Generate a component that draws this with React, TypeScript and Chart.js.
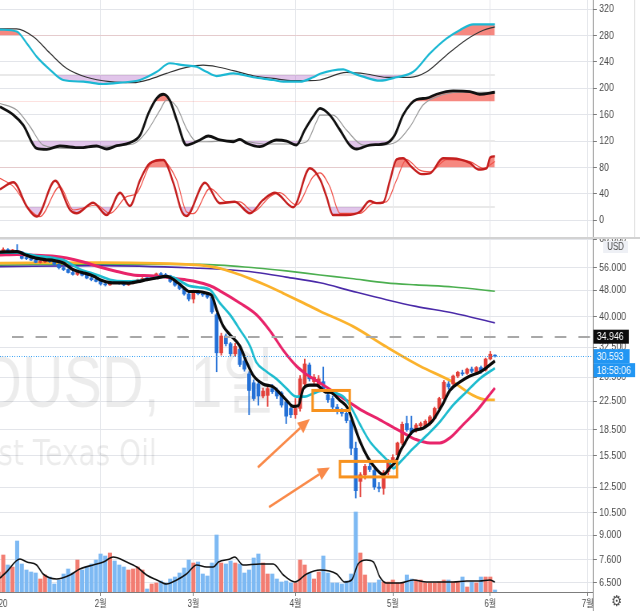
import React, { useEffect, useRef } from "react";
import { Chart, registerables } from "chart.js";
Chart.register(...registerables);

// ---------------- DATA ----------------
const monthTickIdx = [0, 22, 42, 64, 85, 106, 127];
const monthLabels = ["2020", "2월", "3월", "4월", "5월", "6월", "7월"];
const priceTicks = [68, 56, 48, 40, 32.5, 26.5, 22.5, 18.5, 15.5, 12.5, 10.5, 9, 7.6, 6.5];
const oscTicks = [0, 40, 80, 120, 160, 200, 240, 280, 320];
const alertLevel = 34.946;
const lastPrice = 30.593;
const countdown = "18:58:06";
const symbolText = "WTICOUSD,";
const intervalText = "1일";
const descText = "West Texas Oil";

const opens = [61.2,62.6,63.4,62.8,62.9,62.4,59.7,59.6,59.0,58.1,58.3,58.6,58.4,57.3,56.0,55.3,54.2,53.5,54.4,53.2,52.2,51.6,51.0,50.1,49.8,50.8,50.6,50.3,49.8,50.3,51.2,51.5,52.0,51.9,52.3,53.7,53.4,53.0,51.0,49.7,48.6,46.8,45.2,47.2,46.9,46.5,45.8,40.6,31.3,35.1,33.3,31.1,32.1,29.6,27.1,25.5,25.3,23.3,23.4,24.5,24.2,23.8,22.4,21.4,20.5,21.4,25.3,28.8,25.7,25.1,25.7,23.5,22.9,21.6,21.0,20.7,19.7,16.3,13.0,13.6,14.4,14.0,12.5,12.4,13.9,15.0,15.6,16.9,19.3,18.7,18.5,19.0,19.0,19.3,20.0,21.4,22.9,25.3,25.3,26.7,27.3,27.2,28.0,27.4,28.3,27.8,30.0,30.7];
const highs = [63.1,64.2,63.8,63.5,65.6,62.6,60.3,60.1,59.4,58.7,59.0,59.2,58.6,57.6,56.4,55.6,54.6,54.9,54.6,53.5,52.5,52.2,51.3,50.5,51.0,51.3,51.0,50.6,50.6,51.4,51.8,52.3,52.4,52.6,54.0,54.2,53.9,53.2,51.4,50.2,48.9,47.2,48.0,48.0,47.5,47.0,46.0,41.0,35.8,35.6,33.6,33.4,32.4,30.3,27.5,26.0,25.6,24.6,25.0,25.2,24.6,24.0,22.8,21.8,22.9,26.8,30.0,29.2,27.0,26.8,28.4,24.0,23.3,22.0,21.4,21.0,20.0,17.0,13.8,14.6,14.8,14.3,12.9,14.0,15.1,15.6,17.0,19.5,20.3,20.3,19.3,19.5,19.8,20.4,21.6,23.1,25.9,25.7,26.9,27.6,27.8,28.2,28.4,28.5,28.6,30.2,31.6,30.9];
const lows = [60.8,62.3,62.5,62.4,62.0,59.4,59.2,58.8,57.9,57.8,58.0,58.1,57.0,55.5,54.9,54.0,53.2,53.1,52.9,51.9,51.2,50.8,49.7,49.4,49.6,50.2,50.0,49.5,49.6,50.1,50.8,51.1,51.6,51.7,52.1,53.2,52.8,50.6,49.3,48.2,46.4,44.6,44.0,46.5,46.0,45.4,41.0,27.5,30.8,32.8,30.7,30.6,28.5,27.6,20.5,22.6,21.9,23.0,21.7,23.7,22.9,21.6,19.3,20.1,20.0,21.0,25.0,25.8,25.2,24.6,24.0,22.3,21.3,20.6,20.3,19.4,15.6,11.6,11.7,13.2,13.9,12.3,12.1,11.9,13.6,14.8,15.2,16.7,18.3,17.9,18.2,18.7,18.8,19.1,19.8,21.2,22.7,24.4,25.0,26.4,26.8,27.0,27.3,27.1,27.2,27.6,29.8,30.4];
const closes = [62.6,63.4,62.8,62.9,62.4,59.7,59.6,59.0,58.1,58.3,58.6,58.4,57.3,56.0,55.3,54.2,53.5,54.4,53.2,52.2,51.6,51.0,50.1,49.8,50.8,50.6,50.3,49.8,50.3,51.2,51.5,52.0,51.9,52.3,53.7,53.4,53.0,51.0,49.7,48.6,46.8,45.2,47.2,46.9,46.5,45.8,41.4,31.3,35.1,33.3,31.1,32.7,28.9,28.0,24.2,22.9,23.3,24.1,24.5,24.0,23.3,21.9,20.3,20.5,21.4,26.2,29.0,26.2,26.5,26.2,24.2,22.7,21.6,21.0,20.7,19.7,16.3,12.2,13.6,14.4,14.1,12.5,12.4,13.8,14.9,15.3,16.9,19.2,18.5,18.1,19.1,19.3,19.6,20.2,21.4,22.9,25.6,24.8,26.7,27.4,27.1,28.0,27.6,28.3,27.5,30.0,31.0,30.593];
const volumes = [20,37,27,25,51,28,22,20,19,13,17,15,8,12,18,23,19,32,22,25,28,32,38,36,39,31,27,25,22,23,25,22,3,8,9,11,9,13,15,19,24,32,29,30,18,16,29,57,29,28,31,29,28,19,22,34,38,29,18,18,13,10,11,9,9,32,27,19,13,20,36,19,9,9,8,11,18,80,39,17,9,9,12,10,10,12,9,9,17,13,12,12,9,9,9,10,12,12,10,10,15,5,10,9,15,15,15,2];
const volAvg = [[0.3,14],[1.7,20],[4.6,33],[6.1,30],[8.2,27],[9.6,18],[12.5,13],[15.4,17],[17.5,23],[20.4,27],[22.6,30],[24.7,35],[27.6,30],[29.8,25],[31.9,17],[34.1,12],[36.2,8],[38.4,12],[40.5,18],[42.7,27],[44.8,25],[46.3,25],[47.4,30],[49.9,33],[50.9,35],[52.7,27],[56.3,28],[59.2,28],[61.4,17],[63.9,10],[66.4,18],[69.3,22],[72.9,18],[74.6,10],[76.1,12],[77.5,28],[79.3,32],[80.8,30],[82.2,15],[83.6,9],[86.5,9],[89.4,12],[92.3,10],[98,10],[100.9,11],[103.7,11],[105.9,12],[107,10]];

const maBlack = [[0.3,62.3],[4,62.5],[6,61.0],[8,59.8],[10,59.2],[12,58.8],[14,57.8],[15,56.5],[16,55.3],[18,54.2],[20,53.2],[21,52.4],[22,51.5],[24,50.6],[26,50.5],[28,50.4],[30,50.9],[32,51.6],[34,52.2],[36,52.8],[37,52.4],[38,51.3],[39,50.1],[40,48.7],[41,47.6],[43,47.6],[45,47.0],[46,46.2],[47,42.0],[48.4,37.6],[49.9,35.4],[52,32.8],[53.5,29.3],[54.9,26.8],[57,25.3],[59.2,24.8],[60.6,23.8],[62.1,22.6],[63.5,21.7],[64.6,21.8],[65.7,24.5],[67.1,25.1],[68.5,25.1],[70.7,23.9],[71.4,23.9],[73.6,22.6],[75.3,21.4],[76.4,19.5],[77.9,17.1],[79.6,15.3],[81.5,14.1],[82.9,13.6],[84.4,14.3],[85.8,15.0],[86.5,15.9],[87.6,16.9],[88.2,17.5],[89.3,18.3],[91.5,18.7],[93.6,19.7],[95.8,22.1],[97.3,24.2],[99.4,25.6],[101.6,26.7],[103.7,27.4],[105.2,28.3],[107,29.6]];
const maCyan = [[0.3,62.0],[4,62.0],[8,60.8],[12,59.8],[14,59.0],[16,57.0],[18,55.0],[20,54.0],[22,52.8],[24,51.6],[27,51.0],[30,51.2],[33,52.0],[36,52.7],[38,52.2],[39.5,50.8],[41,49.5],[43,49.0],[45.6,48.1],[47.7,44.0],[49.9,40.6],[52,36.7],[54.2,32.8],[55.6,29.3],[57.8,27.5],[59.9,26.2],[62.1,24.5],[64.2,23.2],[66,23.2],[67.8,23.7],[70,24.2],[71.4,23.9],[74.3,23.2],[75.7,21.9],[77.9,19.2],[80,17.1],[82.2,15.8],[84.4,14.7],[85.1,14.2],[86.5,14.8],[87.9,15.5],[89.4,16.3],[92.3,17.8],[95.1,19.5],[98,21.9],[100.9,24.0],[103.7,26.2],[107,28.2]];
const maPink = [[0.3,61.1],[4,61.3],[8,61.0],[12,60.6],[14.7,59.8],[18.3,58.2],[21.8,56.3],[25.5,54.6],[29,53.3],[32.6,53.0],[36.2,52.5],[40.5,51.5],[42,51.1],[45.6,49.5],[47.7,47.8],[52,44.0],[55.6,40.6],[58.5,36.4],[61.4,31.8],[64.2,28.6],[66.4,27.0],[68.5,25.9],[71.4,24.4],[75,22.6],[78.6,21.0],[82.2,19.8],[85.1,18.8],[87.9,17.9],[90,17.3],[93,16.9],[95.1,16.9],[97.3,17.5],[100.2,19.2],[103,21.0],[105.2,22.9],[107,24.6]];
const maOrange = [[0.3,57.8],[21.8,58.0],[43.4,57.0],[47,56.0],[50.6,54.2],[54.2,52.0],[57.8,49.6],[61.4,47.0],[65,44.5],[69.3,41.6],[76.4,37.5],[83.6,32.6],[90.8,28.6],[98,25.6],[102.3,23.4],[105.2,22.7],[107,22.7]];
const maPurple = [[0.3,56.4],[21.8,56.8],[43.4,55.8],[48,55.4],[55.6,54.2],[62,52.5],[69.3,50.5],[76,47.8],[83.6,45.0],[90,43.0],[98,41.1],[107,38.4]];
const maGreen = [[0.3,57.0],[21.8,57.3],[43.4,57.3],[55.6,55.9],[62,54.8],[69.3,53.3],[76,52.0],[83.6,50.5],[90,49.8],[98,49.1],[107,47.7]];

const stochTopK = [[0.3,289],[3.9,286],[6.1,268],[8.2,248],[11.1,228],[13.9,212.6],[18.3,210],[22.6,206.5],[26.2,208.5],[30.5,212.6],[34.1,225],[36.9,238],[39.8,235],[42.7,232.7],[44.8,225],[47.0,218.6],[50.6,222.7],[54.9,216.7],[59.2,212.6],[61.4,210],[65.0,210],[67.8,216.7],[69.3,222],[74.3,228.8],[75.7,225],[78.6,217.6],[82.2,211.5],[85.8,216.7],[89.4,225],[93.0,253],[96.6,275.7],[99.4,288],[102.3,297],[107,297]];
const stochTopD = [[0.3,290],[3.9,290],[7.5,278],[11.1,253],[14.7,230],[19.0,216.7],[24.0,210],[29.0,208.5],[32.6,213.6],[36.2,222.7],[40.5,231.8],[44.1,235],[47.0,232.7],[50.6,226.7],[54.9,219],[59.2,215],[63.5,211.5],[67.1,211.5],[69.3,212.6],[75.0,224],[79.3,221.7],[83.6,216.7],[88.7,216.7],[92.3,225],[96.6,250.5],[100.9,274],[104.5,288],[107,293]];
const stochMidK = [[0.3,172],[3.2,159.5],[5.3,144.4],[8.2,109],[10.4,107.6],[13.2,112.6],[17.5,110],[21.1,112.6],[23.3,108],[25.5,113],[28.3,117.6],[30.5,129],[32.3,162],[34.1,185],[35.5,191],[36.9,182],[38.4,152],[40.5,114],[43.4,121.7],[45.2,127.7],[47.7,121.7],[50.6,119],[52.0,122.7],[53.5,116.7],[56.3,111.5],[59.9,121.7],[62.1,120],[64.2,114],[66.0,136.8],[67.8,157],[69.3,169.7],[71.4,159.5],[73.6,136.8],[75.7,114],[77.2,108],[80.0,114],[83.6,116.7],[85.4,129],[87.2,159.5],[90.1,183],[92.3,185],[94.4,191],[98.0,196],[101.6,195],[103.7,191],[107,194]];
const stochMidD = [[0.3,177],[3.9,167],[6.8,141.8],[9.6,114],[14.7,109],[21.8,112],[29.0,115.6],[31.9,134],[34.8,167],[36.2,182],[38.4,172],[40.5,139],[42.7,119],[44.8,119],[50.6,121.7],[57.8,115.6],[63.5,115.6],[66.4,119],[68.5,149],[69.3,159.5],[72.1,159.5],[75.0,136.8],[78.6,114],[82.2,114],[85.8,119],[88.7,141.8],[91.5,174.7],[94.4,187],[99.4,194],[107,194]];
const stochLowK = [[0.3,47],[3.2,57.6],[6.1,20.6],[8.2,5.5],[12.2,60],[15.4,15.6],[16.8,10.6],[20.4,26.7],[23.3,8],[26.2,41.8],[28.3,21.7],[30.5,61],[32.6,86.4],[35.5,91.4],[37.7,56],[39.5,13],[40.5,6.5],[44.5,57],[47.7,25.8],[50.9,28.2],[54.2,10.6],[57.0,30.8],[59.6,41.8],[63.5,19.7],[67.1,78.8],[69.3,62],[70.7,35.8],[72.1,8],[75.0,8],[77.9,13],[80.0,29.2],[81.5,26],[82.9,27],[84.4,61],[85.8,92.4],[87.2,94],[89.0,81],[91.2,70],[93.0,71],[95.8,94],[99.4,92.4],[101.6,87],[103.4,77],[105.2,78.8],[106.0,95.4],[107,97]];
const stochLowD = [[0.3,63.6],[3.2,51],[6.8,15.6],[8.9,5.5],[13.2,51],[16.1,15.6],[21.1,23.2],[24.0,10.6],[27.6,35.8],[29.8,41],[32.6,83.8],[34.8,92.4],[38.4,61],[40.5,13],[42.0,10],[45.6,48.5],[49.2,28],[52.0,28],[54.9,13],[58.5,35.8],[60.6,41.8],[64.2,23.2],[67.8,66],[69.3,72],[71.4,51],[73.6,10.6],[77.9,10.6],[80.8,26],[83.6,28],[85.8,61],[87.9,92],[90.8,76],[93.0,73.5],[96.6,92],[101.6,89],[104.5,78.8],[107,89]];
const bandLevels = [20, 120, 220];

// annotations in data coordinates: [x0, x1, priceTop, priceBottom]
const boxes = [[67.7, 75.7, 24.2, 21.1], [73.6, 85.9, 14.9, 13.4]];
// arrows: [xTail, pTail, xHead, pHead]
const arrows = [[55.9, 14.3, 67.1, 19.9], [58.3, 10.9, 71.4, 14.3]];

// ---------------- STYLE ----------------
const W = 800;
const TOP_H = 237;
const BOT_H = 374;
const AXIS_W = 59;
const X_MIN = 0.3, X_MAX = 128.1;
const GRID = "#e3e5ea";
const AXIS = "#7d7d7d";
const LABEL = "#4a4a4a";
const FONT = "'Liberation Sans', 'Noto Sans CJK KR', sans-serif";
const WM_FONT = "'DejaVu Sans', 'Noto Sans CJK KR', sans-serif";
const RED_FILL = "rgba(242, 80, 68, 0.68)";
const PURPLE_FILL = "rgba(165, 80, 190, 0.33)";

Chart.defaults.font.family = FONT;

const pts = (a: number[][]) => a.map(([x, y]) => ({ x, y }));

const xScale = (show: boolean) => ({
  type: "linear",
  min: X_MIN,
  max: X_MAX,
  offset: false,
  bounds: "data",
  afterBuildTicks: (s: any) => { s.ticks = monthTickIdx.map((v) => ({ value: v })); },
  afterFit: (s: any) => { s.height = show ? 19 : 0; s.paddingLeft = 0; s.paddingRight = 0; },
  grid: { color: GRID, drawTicks: show, tickLength: 4, tickColor: AXIS, offset: false },
  border: { display: show, color: AXIS },
  ticks: {
    display: show, autoSkip: false, maxRotation: 0, minRotation: 0, padding: 2,
    color: LABEL, font: { size: 10 },
    callback: (_v: any, i: number) => monthLabels[i],
  },
});

const line = (data: number[][], color: string, width: number, order: number, extra: any = {}) => ({
  type: "line",
  data: pts(data),
  borderColor: color,
  borderWidth: width,
  pointRadius: 0,
  cubicInterpolationMode: "monotone",
  fill: false,
  order,
  ...extra,
});

export default function App() {
  const topRef = useRef<HTMLCanvasElement>(null);
  const botRef = useRef<HTMLCanvasElement>(null);

  useEffect(() => {
    // ---------- oscillator panel ----------
    const oscSets: any[] = [];
    bandLevels.forEach((b) =>
      oscSets.push(line([[X_MIN, b], [107, b]], "#e9e9e9", 2, 50, { cubicInterpolationMode: "default" }))
    );
    const addStoch = (k: number[][], d: number[][], hi: number, lo: number, kColor: string, kW: number, dColor: string, dW: number) => {
      oscSets.push(line(k, "rgba(0,0,0,0)", 0, 40, { fill: { target: { value: hi }, above: RED_FILL, below: "rgba(0,0,0,0)" } }));
      oscSets.push(line(k, "rgba(0,0,0,0)", 0, 40, { fill: { target: { value: lo }, above: "rgba(0,0,0,0)", below: PURPLE_FILL } }));
      oscSets.push(line(d, dColor, dW, 20));
      oscSets.push(line(k, kColor, kW, 10));
    };
    addStoch(stochTopK, stochTopD, 280, 220, "#1cb8d3", 2.2, "#333333", 1.2);
    addStoch(stochMidK, stochMidD, 180, 120, "#111111", 2.8, "#9a9a9a", 1.2);
    addStoch(stochLowK, stochLowD, 80, 20, "#c41f1f", 2.4, "#f0524a", 1.2);

    const topChart = new Chart(topRef.current as HTMLCanvasElement, {
      type: "line",
      data: { datasets: oscSets },
      options: {
        responsive: false,
        animation: false,
        devicePixelRatio: 1,
        events: [],
        layout: { padding: 0 },
        plugins: { legend: { display: false }, tooltip: { enabled: false } },
        scales: {
          x: xScale(false) as any,
          y: {
            type: "linear",
            position: "right",
            min: -25.3,
            max: 333.8,
            afterBuildTicks: (s: any) => { s.ticks = oscTicks.map((v) => ({ value: v })); },
            afterFit: (s: any) => { s.width = AXIS_W; s.paddingTop = 0; s.paddingBottom = 0; },
            grid: { color: GRID, tickLength: 5, tickColor: AXIS },
            border: { color: AXIS },
            ticks: { padding: 3, color: LABEL, font: { size: 11 }, callback: (v: any) => String(v) },
          },
        },
      },
      plugins: [
        {
          id: "topDeco",
          afterDraw(chart: any) {
            const ctx = chart.ctx;
            ctx.save();
            ctx.strokeStyle = "#d4d4d4";
            ctx.lineWidth = 1;
            ctx.beginPath();
            ctx.moveTo(W - 6.5, 0);
            ctx.lineTo(W - 6.5, TOP_H);
            ctx.stroke();
            ctx.restore();
          },
        },
      ],
    } as any);

    // ---------- price panel ----------
    const up = "#e2403a", down = "#2370d6";
    const candleColors = closes.map((c, i) => (c >= opens[i] ? up : down));
    const volColors = closes.map((c, i) => (c >= opens[i] ? "#f27d72" : "#7db9f3"));

    const botChart = new Chart(botRef.current as HTMLCanvasElement, {
      type: "bar",
      data: {
        datasets: [
          {
            type: "bar", yAxisID: "vol", order: 30,
            data: volumes.map((v, i) => ({ x: i, y: v })),
            backgroundColor: volColors, barThickness: 4.4, grouped: false, borderWidth: 0,
          },
          { ...line(volAvg, "#111111", 1.6, 29), yAxisID: "vol" },
          line(maGreen, "#4caf50", 1.6, 22),
          line(maPurple, "#4a2aa8", 1.6, 21),
          line(maOrange, "#fbb22c", 2.8, 20),
          {
            type: "bar", order: 12,
            data: closes.map((_c, i) => ({ x: i, y: [lows[i], highs[i]] })),
            backgroundColor: candleColors, barThickness: 1.2, grouped: false, borderWidth: 0,
          },
          {
            type: "bar", order: 11,
            data: closes.map((c, i) => ({ x: i, y: [opens[i], c] })),
            backgroundColor: candleColors, barThickness: 4, grouped: false, borderWidth: 0, minBarLength: 1,
          },
          line(maPink, "#e8246a", 3, 3),
          line(maCyan, "#1fbccf", 2.6, 2),
          line(maBlack, "#0a0a0a", 3.2, 1),
        ],
      },
      options: {
        responsive: false,
        animation: false,
        devicePixelRatio: 1,
        events: [],
        layout: { padding: { top: 2, left: 0, right: 0, bottom: 0 } },
        plugins: { legend: { display: false }, tooltip: { enabled: false } },
        scales: {
          x: xScale(true) as any,
          y: {
            type: "logarithmic",
            position: "right",
            min: 6.102,
            max: 68.14,
            bounds: "data",
            afterBuildTicks: (s: any) => { s.ticks = priceTicks.map((v) => ({ value: v })); },
            afterFit: (s: any) => { s.width = AXIS_W; s.paddingTop = 0; s.paddingBottom = 0; },
            grid: { color: GRID, tickLength: 5, tickColor: AXIS },
            border: { color: AXIS },
            ticks: { autoSkip: false, padding: 3, color: LABEL, font: { size: 11 }, callback: (v: any) => Number(v).toFixed(3) },
          },
          vol: { type: "linear", display: false, min: 0, max: 353 },
        },
      },
      plugins: [
        {
          id: "priceDeco",
          beforeDatasetsDraw(chart: any) {
            const { ctx, chartArea: a } = chart;
            ctx.save();
            ctx.beginPath();
            ctx.rect(a.left, a.top, a.right - a.left, a.bottom - a.top);
            ctx.clip();
            ctx.fillStyle = "rgba(0,0,0,0.075)";
            ctx.textBaseline = "alphabetic";
            ctx.font = `72px ${FONT}`;
            const pre = ctx.measureText("WTICO").width;
            ctx.fillText(symbolText, 27.5 - pre, a.top + 168);
            ctx.fillText(intervalText, 238, a.top + 168);
            ctx.font = `35px ${WM_FONT}`;
            const pre2 = ctx.measureText("West ").width;
            ctx.fillText(descText, 41 - pre2, a.top + 226);
            ctx.restore();
          },
          afterDatasetsDraw(chart: any) {
            const { ctx, chartArea: a, scales } = chart;
            const xs = scales.x, ys = scales.y;
            ctx.save();
            ctx.beginPath();
            ctx.rect(a.left, a.top, a.right - a.left, a.bottom - a.top);
            ctx.clip();
            const ya = Math.round(ys.getPixelForValue(alertLevel));
            ctx.strokeStyle = "#a8a8a8";
            ctx.lineWidth = 2;
            ctx.setLineDash([14.5, 15]);
            ctx.lineDashOffset = -15;
            ctx.beginPath();
            ctx.moveTo(a.left, ya);
            ctx.lineTo(a.right, ya);
            ctx.stroke();
            const yl = Math.round(ys.getPixelForValue(lastPrice)) + 0.5;
            ctx.strokeStyle = "#2196f3";
            ctx.lineWidth = 1;
            ctx.setLineDash([1, 2]);
            ctx.lineDashOffset = 0;
            ctx.beginPath();
            ctx.moveTo(a.left, yl);
            ctx.lineTo(a.right, yl);
            ctx.stroke();
            ctx.setLineDash([]);
            ctx.strokeStyle = "#f7921e";
            ctx.lineWidth = 3;
            boxes.forEach(([x0, x1, p0, p1]) => {
              const l = xs.getPixelForValue(x0), r = xs.getPixelForValue(x1);
              const t = ys.getPixelForValue(p0), b = ys.getPixelForValue(p1);
              ctx.strokeRect(l, t, r - l, b - t);
            });
            ctx.strokeStyle = "#f98a4a";
            ctx.fillStyle = "#f98a4a";
            ctx.lineWidth = 2.6;
            arrows.forEach(([xa, pa, xb, pb]) => {
              const x1 = xs.getPixelForValue(xa), y1 = ys.getPixelForValue(pa);
              const x2 = xs.getPixelForValue(xb), y2 = ys.getPixelForValue(pb);
              const ang = Math.atan2(y2 - y1, x2 - x1);
              const L = 15, H = 6.5;
              const bx = x2 - L * Math.cos(ang), by = y2 - L * Math.sin(ang);
              ctx.beginPath();
              ctx.moveTo(x1, y1);
              ctx.lineTo(bx, by);
              ctx.stroke();
              ctx.beginPath();
              ctx.moveTo(x2, y2);
              ctx.lineTo(bx + H * Math.sin(ang), by - H * Math.cos(ang));
              ctx.lineTo(bx - H * Math.sin(ang), by + H * Math.cos(ang));
              ctx.closePath();
              ctx.fill();
            });
            ctx.restore();
          },
          afterDraw(chart: any) {
            const { ctx, chartArea: a, scales } = chart;
            const ys = scales.y;
            ctx.save();
            ctx.fillStyle = "#d2d2d2";
            ctx.fillRect(0, 0, W, 2);
            ctx.fillStyle = "#ffffff";
            ctx.fillRect(a.right + 1, a.bottom + 1, W - a.right, BOT_H - a.bottom);
            ctx.strokeStyle = AXIS;
            ctx.lineWidth = 1;
            ctx.beginPath();
            ctx.moveTo(a.right + 0.5, a.bottom);
            ctx.lineTo(a.right + 0.5, BOT_H);
            ctx.stroke();
            ctx.fillStyle = "#444";
            ctx.font = "15px 'DejaVu Sans'";
            ctx.textAlign = "center";
            ctx.textBaseline = "middle";
            ctx.fillText("\u2699", a.right + 30, a.bottom + 10);
            ctx.textAlign = "left";
            ctx.font = `11px ${FONT}`;
            const tag = (text: string, yc: number, bg: string, fg: string, x0: number, w: number) => {
              ctx.fillStyle = bg;
              ctx.fillRect(x0, yc - 7, w, 14);
              ctx.fillStyle = fg;
              ctx.textBaseline = "middle";
              ctx.fillText(text, x0 + 4, yc + 0.5);
            };
            const ya = ys.getPixelForValue(alertLevel);
            tag(alertLevel.toFixed(3), ya, "#0d0d0d", "#ffffff", a.right + 1, 44);
            const yl = ys.getPixelForValue(lastPrice);
            tag(lastPrice.toFixed(3), yl, "#2196f3", "#ffffff", a.right + 1, 45);
            tag(countdown, yl + 14, "#2196f3", "#ffffff", a.right + 1, 52);
            ctx.fillStyle = "#eef0f5";
            ctx.fillRect(a.right + 13, a.top + 2, 31, 12);
            ctx.fillStyle = "#4a4a4a";
            ctx.font = `10px ${FONT}`;
            ctx.textAlign = "center";
            ctx.fillText("USD", a.right + 28.5, a.top + 8.5);
            ctx.restore();
          },
        },
      ],
    } as any);

    return () => {
      topChart.destroy();
      botChart.destroy();
    };
  }, []);

  return (
    <div style={{ position: "fixed", left: 0, top: 0, width: 640, height: 611, background: "#ffffff", overflow: "hidden" }}>
      <canvas ref={topRef} width={W} height={TOP_H} style={{ position: "absolute", left: 0, top: 0, width: "640px", height: `${TOP_H}px` }} />
      <canvas ref={botRef} width={W} height={BOT_H} style={{ position: "absolute", left: 0, top: `${TOP_H}px`, width: "640px", height: `${BOT_H}px` }} />
    </div>
  );
}
